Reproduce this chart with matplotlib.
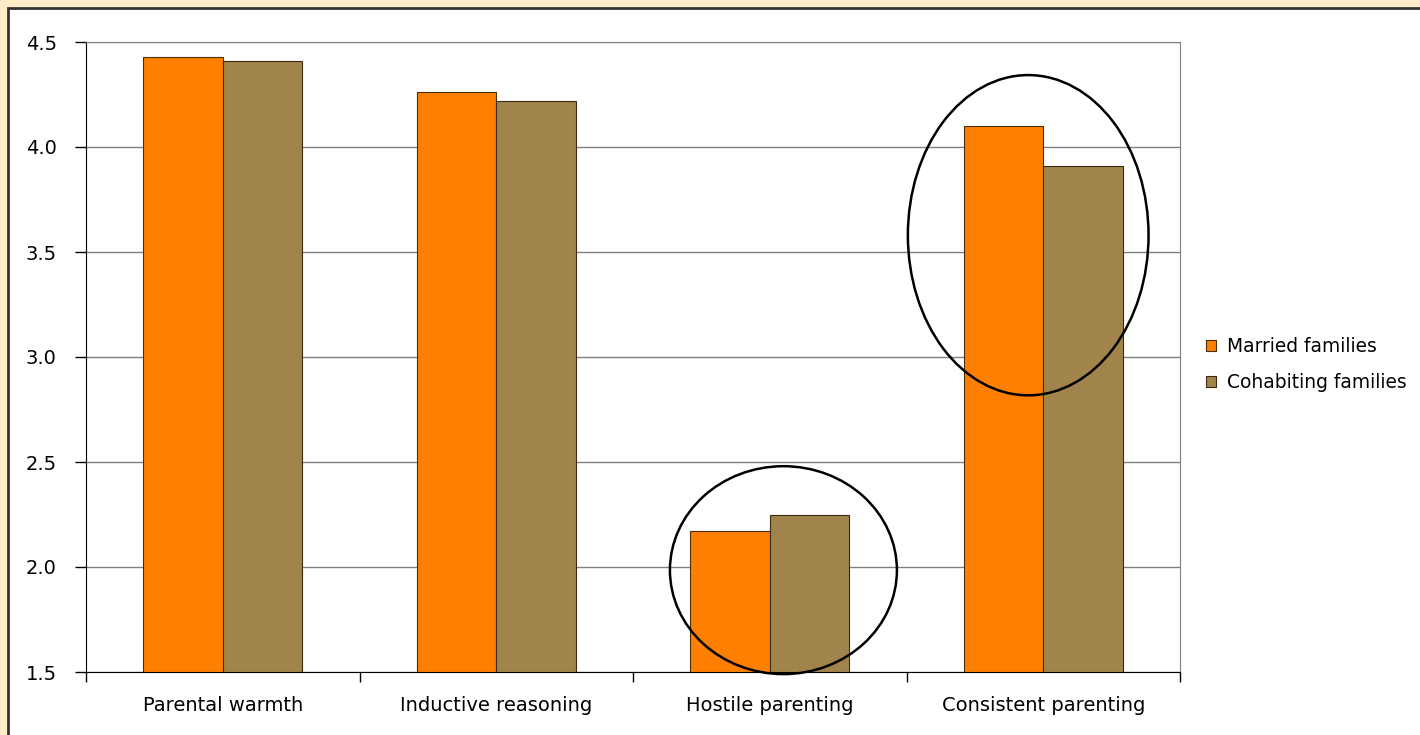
import matplotlib.pyplot as plt
from matplotlib.patches import Ellipse, Rectangle
import numpy as np

categories = ["Parental warmth", "Inductive reasoning", "Hostile parenting", "Consistent parenting"]
married = [4.43, 4.26, 2.17, 4.10]
cohabiting = [4.41, 4.22, 2.25, 3.91]
yticks = [1.5, 2.0, 2.5, 3.0, 3.5, 4.0, 4.5]

fig = plt.figure(figsize=(14.2, 7.35), dpi=100)
fig.patch.set_facecolor("#FEEBC8")
# white chart panel with dark frame on top/left
fig.patches.append(Rectangle((8 / 1420, -0.1), 1.2, (735 - 8) / 735 + 0.1,
                             transform=fig.transFigure, facecolor="white",
                             edgecolor="#333333", linewidth=2, zorder=-5))

ax = fig.add_axes([86 / 1420, 63 / 735, 1094 / 1420, 630 / 735])
x = np.arange(len(categories))
w = 0.29
ax.bar(x - w / 2, np.array(married) - 1.5, w, bottom=1.5, color="#FF8000",
       edgecolor="#4a3000", linewidth=0.8, label="Married families", zorder=3)
ax.bar(x + w / 2, np.array(cohabiting) - 1.5, w, bottom=1.5, color="#A0844C",
       edgecolor="#3a2a10", linewidth=0.8, label="Cohabiting families", zorder=3)

ax.set_xlim(-0.5, len(categories) - 0.5)
ax.set_ylim(1.5, 4.5)
ax.set_yticks(yticks)
ax.set_yticklabels([f"{v:.1f}" for v in yticks], fontsize=14)
ax.set_xticks(x)
ax.set_xticklabels(categories, fontsize=14)
ax.tick_params(axis="x", length=0, pad=17)
ax.tick_params(axis="y", length=8, width=1, pad=13, direction="out")
ax.set_xticks(np.arange(len(categories) + 1) - 0.5, minor=True)
ax.tick_params(axis="x", which="minor", length=7, width=1, direction="out")
ax.grid(axis="y", color="#808080", linewidth=1, zorder=1)
for s in ["top", "right"]:
    ax.spines[s].set_color("#808080")
for s in ["left", "bottom"]:
    ax.spines[s].set_color("black")

# circled highlights
ax.add_patch(Ellipse((2.05, 1.985), 0.83, 0.99, fill=False, edgecolor="black",
                     linewidth=1.8, clip_on=False, zorder=4))
ax.add_patch(Ellipse((2.945, 3.58), 0.88, 1.525, fill=False, edgecolor="black",
                     linewidth=1.8, clip_on=False, zorder=4))

ax.legend(loc="center left", bbox_to_anchor=(1.017, 0.488), frameon=False,
          fontsize=13.4, handlelength=0.55, handleheight=0.55, labelspacing=0.95,
          handletextpad=0.6, borderaxespad=0)

fig.savefig("out.png", dpi=100)
